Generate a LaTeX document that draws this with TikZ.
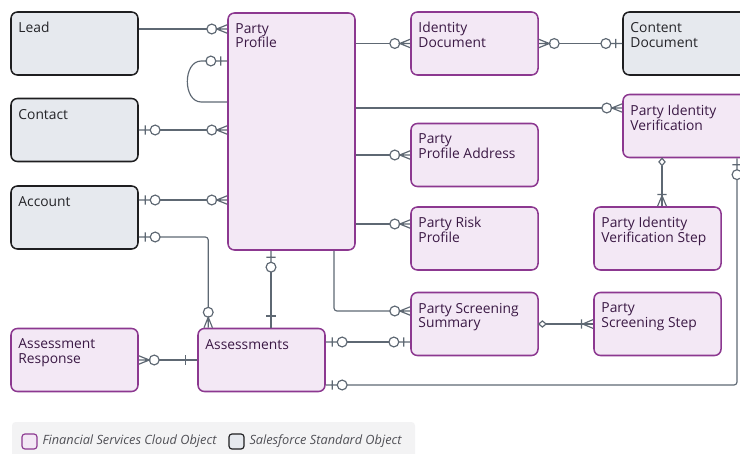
\documentclass[tikz,border=0pt]{standalone}
\usepackage{fontspec}
\setmainfont{Open Sans}
\usetikzlibrary{arrows.meta,positioning,calc}
\definecolor{FSCFill}   {RGB}{243,232,245}
\definecolor{FSCLine}   {RGB}{140,56,144}
\definecolor{FSCText}   {RGB}{58,24,68}
\definecolor{SFDFill}   {RGB}{230,233,238}
\definecolor{SFDLine}   {RGB}{30,30,32}
\definecolor{SFDText}   {RGB}{36,36,40}
\definecolor{Wire}      {RGB}{94,104,115}
\definecolor{LegendBg}  {RGB}{243,243,244}
\definecolor{LegendText}{RGB}{80,80,86}

%% ER ends: the tip sits on the box edge
\pgfdeclarearrow{
  name = zmany,
  setup code = {
    \pgfarrowssettipend{0pt}
    \pgfarrowssetlineend{-17.4pt}
    \pgfarrowssetbackend{-17.4pt}
    \pgfarrowsupperhullpoint{0pt}{4.2pt}
    \pgfarrowsupperhullpoint{-17.4pt}{4.2pt}
  },
  drawing code = {
    \pgfpathmoveto{\pgfqpoint{0pt}{3.6pt}}
    \pgfpathlineto{\pgfqpoint{-9pt}{0pt}}
    \pgfpathlineto{\pgfqpoint{0pt}{-3.6pt}}
    \pgfpathmoveto{\pgfqpoint{0pt}{0pt}}
    \pgfpathlineto{\pgfqpoint{-9pt}{0pt}}
    \pgfpathcircle{\pgfqpoint{-13.2pt}{0pt}}{4.2pt}
    \pgfusepathqstroke
  }
}
\pgfdeclarearrow{
  name = zone,
  setup code = {
    \pgfarrowssettipend{0pt}
    \pgfarrowssetlineend{-18.2pt}
    \pgfarrowssetbackend{-18.2pt}
    \pgfarrowsupperhullpoint{0pt}{4.2pt}
    \pgfarrowsupperhullpoint{-18.2pt}{4.2pt}
  },
  drawing code = {
    \pgfpathmoveto{\pgfqpoint{0pt}{0pt}}
    \pgfpathlineto{\pgfqpoint{-9.8pt}{0pt}}
    \pgfpathmoveto{\pgfqpoint{-5.5pt}{4pt}}
    \pgfpathlineto{\pgfqpoint{-5.5pt}{-4pt}}
    \pgfpathcircle{\pgfqpoint{-14pt}{0pt}}{4.2pt}
    \pgfusepathqstroke
  }
}
\pgfdeclarearrow{
  name = one,
  setup code = {
    \pgfarrowssettipend{0pt}
    \pgfarrowssetlineend{0pt}
    \pgfarrowssetbackend{-10pt}
    \pgfarrowsupperhullpoint{0pt}{4pt}
    \pgfarrowsupperhullpoint{-10pt}{4pt}
  },
  drawing code = {
    \pgfpathmoveto{\pgfqpoint{-10pt}{4pt}}
    \pgfpathlineto{\pgfqpoint{-10pt}{-4pt}}
    \pgfusepathqstroke
  }
}
\pgfdeclarearrow{
  name = omany,
  setup code = {
    \pgfarrowssettipend{0pt}
    \pgfarrowssetlineend{0pt}
    \pgfarrowssetbackend{-10pt}
    \pgfarrowsupperhullpoint{0pt}{4pt}
    \pgfarrowsupperhullpoint{-10pt}{4pt}
  },
  drawing code = {
    \pgfpathmoveto{\pgfqpoint{0pt}{3.8pt}}
    \pgfpathlineto{\pgfqpoint{-9pt}{0pt}}
    \pgfpathlineto{\pgfqpoint{0pt}{-3.8pt}}
    \pgfpathmoveto{\pgfqpoint{-10pt}{4pt}}
    \pgfpathlineto{\pgfqpoint{-10pt}{-4pt}}
    \pgfusepathqstroke
  }
}
\pgfdeclarearrow{
  name = odiam,
  setup code = {
    \pgfarrowssettipend{0pt}
    \pgfarrowssetlineend{-6.2pt}
    \pgfarrowssetbackend{-6.2pt}
    \pgfarrowsupperhullpoint{0pt}{2.6pt}
    \pgfarrowsupperhullpoint{-6.2pt}{2.6pt}
  },
  drawing code = {
    \pgfpathmoveto{\pgfqpoint{0pt}{0pt}}
    \pgfpathlineto{\pgfqpoint{-3.1pt}{2.6pt}}
    \pgfpathlineto{\pgfqpoint{-6.2pt}{0pt}}
    \pgfpathlineto{\pgfqpoint{-3.1pt}{-2.6pt}}
    \pgfpathclose
    \pgfusepathqstroke
  }
}

\begin{document}
\begin{tikzpicture}[x=0.03cm,y=-0.03cm,
    fsc/.style={rectangle,rounded corners=5.5pt,draw=FSCLine,fill=FSCFill,
                line width=1.3pt,minimum width=3.81cm,minimum height=1.89cm,inner sep=0pt},
    sfd/.style={fsc,draw=SFDLine,fill=SFDFill},
    boxtext/.style={anchor=north west,inner sep=0pt,align=left,
                    font=\fontsize{11.8}{12.4}\selectfont,xshift=6.8pt,yshift=-9.4pt,
                    execute at begin node=\strut},
    wire/.style={draw=Wire,line width=1pt,rounded corners=2.5pt},
    swatch/.style={rectangle,rounded corners=2.5pt,line width=1pt,
                   minimum size=0.45cm,inner sep=0pt},
    keytext/.style={font=\fontsize{10.9}{12}\selectfont\itshape,text=LegendText,inner sep=0pt}]
  \path[use as bounding box,clip] (0,0) rectangle (740,453);
  %% Salesforce standard objects
  \foreach \n/\x/\y/\t in {
      lead/74.5/43.5/{Lead},
      contact/74.5/130/{Contact},
      account/74.5/217.5/{Account},
      contdoc/686.5/43.5/{Content\\Document}}{
    \node[sfd,label={[boxtext,text=SFDText]north west:\t}] (\n) at (\x,\y) {};
  }
  %% Financial Services Cloud objects
  \node[fsc,minimum height=7.11cm,label={[boxtext,text=FSCText]north west:{Party\\Profile}}]
    (pp) at (291.5,131.5) {};
  \foreach \n/\x/\y/\t in {
      iddoc/474.5/43.5/{Identity\\Document},
      piv/686.5/126/{Party Identity\\Verification},
      ppaddr/474.5/155/{Party\\Profile Address},
      prisk/474.5/238.5/{Party Risk\\Profile},
      pivstep/657.5/238.5/{Party Identity\\Verification Step},
      pss/474.5/324/{Party Screening\\Summary},
      psstep/657.5/324/{Party\\Screening Step},
      aresp/74.5/360/{Assessment\\Response},
      assess/261.5/360/{Assessments}}{
    \node[fsc,label={[boxtext,text=FSCText]north west:\t}] (\n) at (\x,\y) {};
  }
  %% Relationships
  \draw[wire,-zmany] (lead.east |- 0,29) -- (pp.west |- 0,29);
  \draw[wire,zone-] (pp.west |- 0,61) -- ++(-23,0)
    to[out=180,in=180,looseness=1.35] ++(0,41) -- (pp.west |- 0,102);
  \draw[wire,zone-zmany] (contact.east |- 0,130) -- (pp.west |- 0,130);
  \draw[wire,zone-zmany] (account.east |- 0,200) -- (pp.west |- 0,200);
  \draw[wire,zone-zmany] (account.east |- 0,237) -| ($(assess.north west)+(11,0)$);
  \draw[wire,zone-one] (pp.south -| 271,0) -- (assess.north -| 271,0);
  \draw[wire,zmany-one] (aresp.east) -- (assess.west);
  \draw[wire,-zmany] (pp.east |- iddoc.west) -- (iddoc.west);
  \draw[wire,zmany-zone] (iddoc.east) -- (contdoc.west);
  \draw[wire,-zmany] (pp.east |- 0,108) -- (piv.west |- 0,108);
  \draw[wire,-zmany] (pp.east |- ppaddr.west) -- (ppaddr.west);
  \draw[wire,-zmany] (pp.east |- 0,224) -- (prisk.west |- 0,224);
  \draw[wire,-zmany] (pp.south -| 334,0) |- (pss.west |- 0,311);
  \draw[wire,zone-zone] (assess.east |- 0,342) -- (pss.west |- 0,342);
  \draw[wire,zone-zone] (assess.east |- 0,385) -| (piv.south -| 737,0);
  \draw[wire,odiam-omany] (piv.south -| 662,0) -- (pivstep.north -| 662,0);
  \draw[wire,odiam-omany] (pss.east) -- (psstep.west);
  %% Legend
  \fill[LegendBg,rounded corners=3pt] (12,422) rectangle (415,460);
  \node[swatch,draw=FSCLine,fill=FSCFill] (keyfsc) at (29.5,441.5) {};
  \node[keytext,right=4pt of keyfsc] (keyfsctext) {Financial Services Cloud Object};
  \node[swatch,draw=SFDLine,fill=SFDFill] (keysfd) at (236.5,441.5) {};
  \node[keytext,right=4pt of keysfd] (keysfdtext) {Salesforce Standard Object};
\end{tikzpicture}
\end{document}
